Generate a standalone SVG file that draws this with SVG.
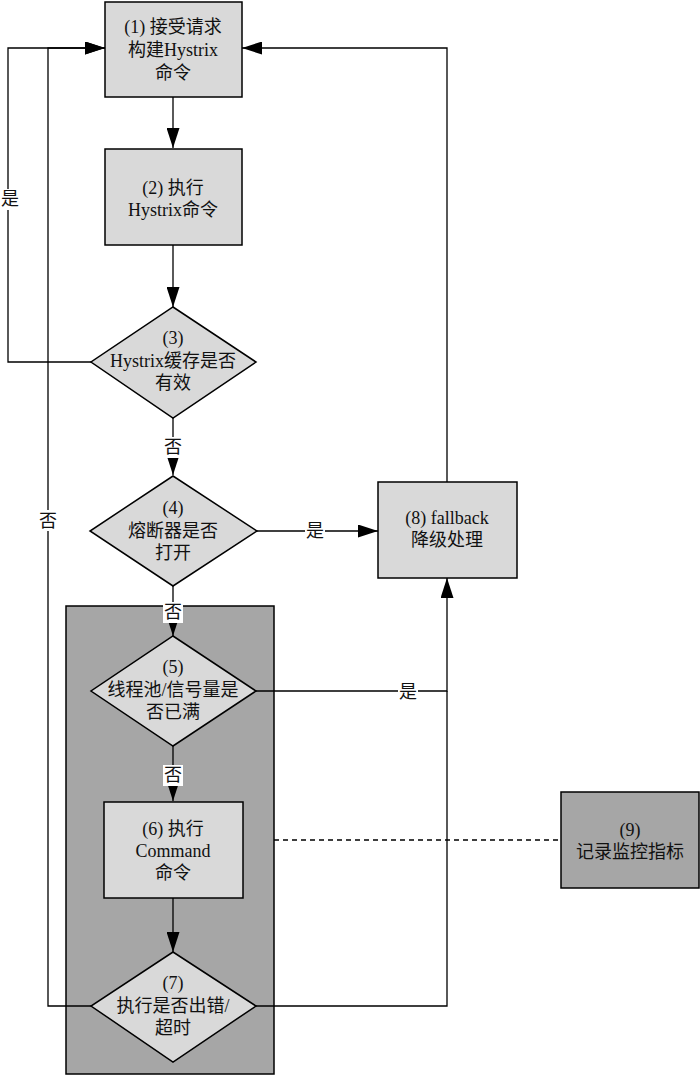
<svg xmlns="http://www.w3.org/2000/svg" width="700" height="1075" viewBox="0 0 700 1075">
<defs>
<marker id="arr" viewBox="0 0 20 13" refX="20" refY="6.5" markerWidth="20" markerHeight="13" markerUnits="userSpaceOnUse" orient="auto">
<path d="M0,0 L20,6.5 L0,13 Z" fill="#000"/>
</marker>
</defs>
<style>
.n{fill:#d9d9d9;stroke:#000;stroke-width:1.5}
.d{fill:#a6a6a6;stroke:#000;stroke-width:1.5}
.e{fill:none;stroke:#000;stroke-width:1.3}
.a{marker-end:url(#arr)}
.dash{fill:none;stroke:#000;stroke-width:1.3;stroke-dasharray:5,4}
text{font-family:"Liberation Serif","Noto Sans CJK SC",serif;font-size:18px;fill:#111;text-anchor:middle;dominant-baseline:central}
.bg{fill:#fff}
</style>
<rect width="700" height="1075" fill="#fff"/>
<g id="container">
<rect class="d" x="66" y="606" width="208" height="468"/>
</g>
<g id="connectors">
<path class="e a" d="M173,97 V148"/>
<path class="e a" d="M173,245 V307"/>
<path class="e a" d="M91,362 H8 V48 H105"/>
<path class="e a" d="M173,418 V475"/>
<path class="e a" d="M257,531 H378"/>
<path class="e a" d="M447,482 V48 H242"/>
<path class="e a" d="M173,586 V636"/>
<path class="e a" d="M256,691 H447 V578"/>
<path class="e a" d="M173,746 V801"/>
<path class="e a" d="M173,898 V952"/>
<path class="e" d="M256,1006 H447 V691"/>
<path class="e a" d="M91,1006 H48 V48 H105"/>
<path class="dash" d="M274,840 H561"/>
<rect class="bg" x="163" y="437" width="20" height="21"/>
<text x="173" y="447">否</text>
<rect class="bg" x="163" y="602" width="20" height="21"/>
<text x="173" y="612">否</text>
<rect class="bg" x="163" y="765" width="20" height="21"/>
<text x="173" y="775">否</text>
<rect class="bg" x="0" y="189" width="19" height="21"/>
<text x="10" y="199">是</text>
<rect class="bg" x="38" y="510" width="20" height="21"/>
<text x="48" y="521">否</text>
<rect class="bg" x="305" y="520" width="20" height="21"/>
<text x="315" y="531">是</text>
<rect class="bg" x="398" y="681" width="20" height="21"/>
<text x="408" y="692">是</text>
</g>
<g id="node1">
<rect class="n" x="105" y="2" width="137" height="95"/>
<text x="173" y="27">(1) 接受请求</text>
<text x="173" y="50">构建Hystrix</text>
<text x="173" y="73">命令</text>
</g>
<g id="node2">
<rect class="n" x="105" y="149" width="137" height="96"/>
<text x="173" y="188">(2) 执行</text>
<text x="173" y="210">Hystrix命令</text>
</g>
<g id="node3">
<polygon class="n" points="173,307 256,362 173,418 91,362"/>
<text x="173" y="338">(3)</text>
<text x="173" y="361">Hystrix缓存是否</text>
<text x="173" y="383">有效</text>
</g>
<g id="node4">
<polygon class="n" points="173,476 257,531 173,586 90,531"/>
<text x="173" y="508">(4)</text>
<text x="173" y="531">熔断器是否</text>
<text x="173" y="553">打开</text>
</g>
<g id="node8">
<rect class="n" x="378" y="482" width="139" height="96"/>
<text x="447" y="518">(8) fallback</text>
<text x="447" y="540">降级处理</text>
</g>
<g id="node5">
<polygon class="n" points="173,636 256,691 173,746 91,691"/>
<text x="173" y="667">(5)</text>
<text x="173" y="690">线程池/信号量是</text>
<text x="173" y="712">否已满</text>
</g>
<g id="node6">
<rect class="n" x="104" y="802" width="139" height="96"/>
<text x="173" y="829">(6) 执行</text>
<text x="173" y="851">Command</text>
<text x="173" y="873">命令</text>
</g>
<g id="node7">
<polygon class="n" points="173,952 256,1006 173,1062 91,1006"/>
<text x="173" y="983">(7)</text>
<text x="173" y="1006">执行是否出错/</text>
<text x="173" y="1028">超时</text>
</g>
<g id="node9">
<rect class="d" x="561" y="792" width="138" height="96"/>
<text x="630" y="830">(9)</text>
<text x="630" y="852">记录监控指标</text>
</g>
</svg>
